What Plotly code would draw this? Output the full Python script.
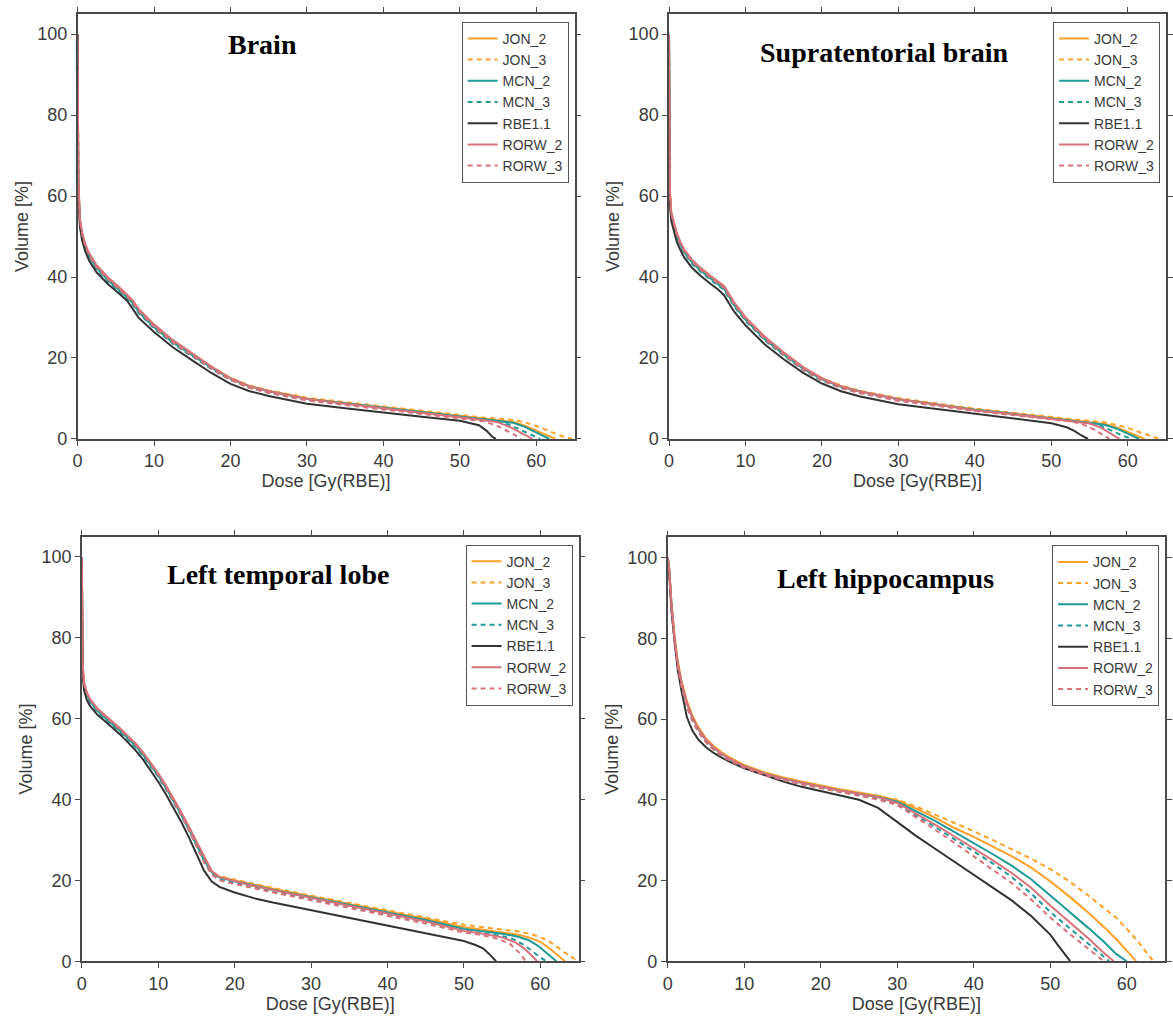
import plotly.graph_objects as go

# ---------------- data ----------------
SERIES = ["JON_2", "JON_3", "MCN_2", "MCN_3", "RBE", "RORW_2", "RORW_3"]
SERIES_NAMES = ["JON_2", "JON_3", "MCN_2", "MCN_3", "RBE1.1", "RORW_2", "RORW_3"]
PANELS = ["BR", "ST", "LT", "LH"]
PANEL_TITLES = ["Brain", "Supratentorial brain", "Left temporal lobe", "Left hippocampus"]
X_TICKS = [0, 10, 20, 30, 40, 50, 60]
Y_TICKS = [0, 20, 40, 60, 80, 100]

# ---- Brain ----
BR_D = [0, 0.1, 0.3, 0.6, 1, 1.5, 2.5, 4, 5.5, 6.5, 7.2, 8, 10, 12.5, 15, 17.5, 20, 22.5, 25, 30, 35, 40, 45, 50]
BR_JON_2_V = [100, 64, 54, 50.5, 47.8, 45.5, 42.5, 39.5, 37.0, 35.3, 33.9, 31.7, 27.9, 24.1, 20.9, 17.8, 15.0, 13.1, 11.9, 10.0, 8.9, 7.8, 6.8, 5.7]
BR_JON_3_V = [100, 64, 54, 50.5, 47.8, 45.5, 42.5, 39.5, 37.0, 35.3, 33.9, 31.7, 27.9, 24.1, 20.9, 17.9, 15.1, 13.2, 12.0, 10.2, 9.1, 8.0, 7.0, 5.9]
BR_MCN_2_V = [100, 63.5, 53.7, 50.2, 47.5, 45.2, 42.2, 39.2, 36.7, 35.0, 33.6, 31.4, 27.6, 23.8, 20.6, 17.6, 14.9, 13.0, 11.8, 9.9, 8.8, 7.7, 6.7, 5.6]
BR_MCN_3_V = [100, 63, 53.4, 50.0, 47.3, 45.0, 41.9, 38.9, 36.4, 34.7, 33.3, 31.1, 27.3, 23.5, 20.3, 17.3, 14.6, 12.7, 11.5, 9.7, 8.6, 7.5, 6.5, 5.4]
BR_RBE_V = [100, 61, 52.5, 49.0, 46.4, 44.1, 41.1, 38.2, 35.8, 34.1, 32.2, 29.9, 26.4, 22.6, 19.4, 16.3, 13.6, 11.8, 10.6, 8.7, 7.6, 6.5, 5.5, 4.5]
BR_RORW_2_V = [100, 65, 54.5, 51.0, 48.2, 45.9, 42.9, 39.9, 37.4, 35.7, 34.3, 32.1, 28.3, 24.4, 21.1, 17.9, 15.0, 13.0, 11.8, 9.9, 8.7, 7.6, 6.5, 5.4]
BR_RORW_3_V = [100, 64, 54, 50.5, 47.8, 45.4, 42.4, 39.4, 36.9, 35.2, 33.8, 31.6, 27.7, 23.8, 20.5, 17.4, 14.6, 12.6, 11.4, 9.5, 8.4, 7.3, 6.3, 5.2]
BR_JON_2_TD = [53, 55, 57, 58.5, 60, 61.5, 62.5]
BR_JON_2_TV = [5.0, 4.6, 4.2, 3.3, 2.0, 0.8, 0]
BR_JON_3_TD = [53, 55, 57, 58.5, 60, 62, 63.5, 64.7]
BR_JON_3_TV = [5.3, 5.0, 4.7, 4.1, 3.2, 1.7, 0.6, 0]
BR_MCN_2_TD = [53, 55, 57, 58.5, 60, 61, 61.7]
BR_MCN_2_TV = [4.9, 4.5, 4.0, 3.0, 1.6, 0.6, 0]
BR_MCN_3_TD = [53, 55, 56.5, 58, 59.5, 60.5]
BR_MCN_3_TV = [4.7, 4.2, 3.5, 2.2, 0.9, 0]
BR_RBE_TD = [51, 52.5, 53.5, 54.2, 54.7]
BR_RBE_TV = [4.1, 3.4, 2.0, 0.6, 0]
BR_RORW_2_TD = [53, 55, 56.6, 58, 59.5]
BR_RORW_2_TV = [4.7, 4.1, 2.9, 1.5, 0]
BR_RORW_3_TD = [53, 54.8, 56, 57.2, 58]
BR_RORW_3_TV = [4.4, 3.3, 2.2, 1.0, 0]

# ---- Supratentorial brain ----
ST_D = [0, 0.1, 0.3, 0.7, 1, 1.5, 2, 3, 4.2, 5.5, 6.5, 7.2, 7.8, 8.5, 10, 12.5, 15, 17.5, 20, 22.5, 25, 30, 35, 40, 45, 50]
ST_JON_2_V = [100, 61, 55.5, 52.5, 50.5, 48.2, 46.4, 43.9, 41.8, 39.8, 38.4, 37.4, 35.6, 33.4, 29.8, 25.0, 21.2, 17.6, 14.9, 13.0, 11.8, 9.9, 8.6, 7.3, 6.3, 5.2]
ST_JON_3_V = [100, 61, 55.5, 52.5, 50.5, 48.2, 46.4, 43.9, 41.8, 39.8, 38.4, 37.4, 35.6, 33.4, 29.8, 25.0, 21.2, 17.7, 15.0, 13.2, 11.9, 10.1, 8.8, 7.5, 6.5, 5.4]
ST_MCN_2_V = [100, 60.5, 55.2, 52.2, 50.2, 47.9, 46.1, 43.6, 41.5, 39.5, 38.1, 37.1, 35.3, 33.1, 29.5, 24.7, 20.9, 17.4, 14.7, 12.9, 11.7, 9.8, 8.5, 7.2, 6.2, 5.1]
ST_MCN_3_V = [100, 60, 54.9, 51.9, 49.9, 47.6, 45.8, 43.3, 41.2, 39.2, 37.8, 36.8, 35.0, 32.8, 29.2, 24.4, 20.6, 17.1, 14.4, 12.6, 11.4, 9.6, 8.3, 7.0, 6.0, 4.9]
ST_RBE_V = [100, 58.5, 53.8, 50.8, 48.8, 46.6, 44.8, 42.3, 40.2, 38.2, 36.8, 35.5, 33.6, 31.5, 28.1, 23.4, 19.7, 16.4, 13.7, 11.8, 10.5, 8.6, 7.4, 6.2, 5.1, 3.9]
ST_RORW_2_V = [100, 62, 56, 53.0, 51.0, 48.6, 46.8, 44.3, 42.2, 40.2, 38.8, 37.8, 36.0, 33.8, 30.1, 25.3, 21.4, 17.8, 15.0, 13.0, 11.7, 9.8, 8.5, 7.1, 6.1, 5.0]
ST_RORW_3_V = [100, 61, 55.5, 52.5, 50.5, 48.1, 46.3, 43.8, 41.7, 39.7, 38.3, 37.3, 35.5, 33.3, 29.6, 24.7, 20.8, 17.2, 14.5, 12.6, 11.3, 9.4, 8.2, 6.9, 5.9, 4.8]
ST_JON_2_TD = [53, 55, 57, 58.5, 60, 61.3, 62.2]
ST_JON_2_TV = [4.6, 4.2, 3.7, 2.9, 1.8, 0.7, 0]
ST_JON_3_TD = [53, 55, 57, 58.5, 60, 62, 63.2, 64.1]
ST_JON_3_TV = [4.8, 4.5, 4.1, 3.5, 2.7, 1.4, 0.5, 0]
ST_MCN_2_TD = [53, 55, 57, 58.5, 60, 61, 61.5]
ST_MCN_2_TV = [4.5, 4.1, 3.5, 2.6, 1.4, 0.4, 0]
ST_MCN_3_TD = [53, 55, 56.5, 58, 59.5, 60.5]
ST_MCN_3_TV = [4.4, 3.9, 3.2, 1.9, 0.7, 0]
ST_RBE_TD = [52, 53, 54, 54.8]
ST_RBE_TV = [2.9, 2.0, 0.8, 0]
ST_RORW_2_TD = [53, 55, 56.5, 57.8, 58.9]
ST_RORW_2_TV = [4.4, 3.8, 2.8, 1.4, 0]
ST_RORW_3_TD = [53, 54.5, 55.5, 56.7, 57.6]
ST_RORW_3_TV = [4.2, 3.3, 2.4, 1.1, 0]

# ---- Left temporal lobe ----
LT_D = [0, 0.1, 0.3, 0.6, 1, 1.5, 2, 3, 4, 5, 6, 7, 8, 9, 10, 11, 12, 13, 14, 15, 16, 17, 18, 20, 22.5, 25, 30, 35, 40, 45, 50]
LT_JON_2_V = [100, 73, 68.5, 66.5, 64.8, 63.4, 62.3, 60.6, 59.0, 57.3, 55.5, 53.6, 51.4, 48.9, 46.2, 43.2, 40.0, 36.6, 33.0, 29.3, 25.3, 22.2, 20.9, 20.0, 18.9, 17.9, 16.0, 14.1, 12.3, 10.5, 8.4]
LT_JON_3_V = [100, 73, 68.5, 66.5, 64.8, 63.4, 62.3, 60.6, 59.0, 57.3, 55.5, 53.6, 51.4, 48.9, 46.2, 43.2, 40.0, 36.6, 33.0, 29.3, 25.3, 22.2, 21.0, 20.2, 19.1, 18.1, 16.2, 14.4, 12.6, 10.9, 9.0]
LT_MCN_2_V = [100, 72.5, 68.2, 66.2, 64.5, 63.1, 62.0, 60.3, 58.7, 57.0, 55.2, 53.3, 51.1, 48.6, 45.9, 42.9, 39.7, 36.3, 32.7, 29.0, 25.0, 22.0, 20.7, 19.8, 18.7, 17.7, 15.8, 13.9, 12.1, 10.2, 8.0]
LT_MCN_3_V = [100, 72, 67.9, 65.9, 64.2, 62.8, 61.7, 60.0, 58.4, 56.7, 54.9, 53.0, 50.8, 48.3, 45.6, 42.6, 39.4, 36.0, 32.4, 28.6, 24.6, 21.6, 20.3, 19.4, 18.3, 17.3, 15.4, 13.5, 11.7, 9.8, 7.6]
LT_RBE_V = [100, 71, 67, 64.9, 63.3, 62.0, 61.0, 59.4, 57.8, 56.1, 54.2, 52.2, 49.9, 47.3, 44.4, 41.3, 38.0, 34.5, 30.7, 26.5, 22.4, 19.7, 18.4, 17.0, 15.6, 14.5, 12.6, 10.7, 8.9, 7.0, 5.0]
LT_RORW_2_V = [100, 73.5, 69, 66.8, 65.1, 63.7, 62.6, 60.9, 59.3, 57.6, 55.8, 53.9, 51.7, 49.2, 46.5, 43.5, 40.3, 36.9, 33.3, 29.6, 25.6, 22.3, 20.8, 19.8, 18.6, 17.6, 15.6, 13.7, 11.8, 9.8, 7.5]
LT_RORW_3_V = [100, 73, 68.5, 66.5, 64.8, 63.4, 62.3, 60.6, 59.0, 57.3, 55.5, 53.6, 51.4, 48.9, 46.1, 43.0, 39.7, 36.2, 32.5, 28.6, 24.5, 21.4, 20.0, 19.1, 18.0, 17.0, 15.1, 13.2, 11.3, 9.3, 7.1]
LT_JON_2_TD = [52.5, 55, 57, 58.5, 60, 61.3, 62.5, 63.2]
LT_JON_2_TV = [7.8, 7.2, 6.6, 5.9, 4.8, 3.0, 1.0, 0]
LT_JON_3_TD = [52.5, 55, 57, 59, 60.5, 61.5, 63.2, 64.3, 65]
LT_JON_3_TV = [8.4, 7.9, 7.4, 6.6, 5.5, 4.5, 2.1, 0.8, 0]
LT_MCN_2_TD = [52.5, 55, 57, 58.5, 59.7, 60.7, 61.5, 62.1]
LT_MCN_2_TV = [7.4, 6.8, 6.1, 5.2, 3.8, 2.2, 0.8, 0]
LT_MCN_3_TD = [52.5, 55, 56.5, 57.8, 59, 60, 60.8]
LT_MCN_3_TV = [6.9, 6.2, 5.4, 4.1, 2.4, 0.9, 0]
LT_RBE_TD = [51.5, 52.5, 53.3, 54.2]
LT_RBE_TV = [4.0, 3.2, 1.8, 0]
LT_RORW_2_TD = [52.5, 55, 56.8, 58, 58.8, 59.6]
LT_RORW_2_TV = [6.8, 5.9, 4.6, 3.0, 1.5, 0]
LT_RORW_3_TD = [52.5, 54.5, 56, 57.2, 58.1]
LT_RORW_3_TV = [6.4, 5.5, 4.3, 2.2, 0]

# ---- Left hippocampus ----
LH_D = [0, 0.2, 0.5, 0.9, 1.3, 1.8, 2.5, 3.2, 4, 5, 6, 7, 8, 10, 12.5, 15, 17.5, 20, 22.5, 25, 27.5, 30, 32.5, 35, 37.5, 40, 42.5, 45, 47.5, 50]
LH_JON_2_V = [100, 97, 88.5, 80.5, 74.5, 69.5, 64.5, 61.0, 58.0, 55.2, 53.3, 51.8, 50.6, 48.6, 46.9, 45.6, 44.5, 43.5, 42.6, 41.8, 41.0, 39.8, 37.8, 35.5, 33.0, 30.8, 28.4, 26.0, 23.2, 19.8]
LH_JON_3_V = [100, 97, 88.5, 80, 74.2, 69.2, 64.2, 60.8, 57.8, 55.0, 53.1, 51.6, 50.4, 48.4, 46.7, 45.4, 44.3, 43.3, 42.4, 41.6, 40.8, 40.0, 38.3, 36.3, 34.3, 32.2, 30.0, 27.8, 25.4, 22.8]
LH_MCN_2_V = [100, 97, 88, 79.5, 73.8, 68.8, 63.8, 60.4, 57.5, 54.8, 52.9, 51.4, 50.2, 48.3, 46.6, 45.3, 44.2, 43.2, 42.3, 41.5, 40.7, 39.5, 37.2, 34.7, 32.0, 29.3, 26.5, 23.6, 20.3, 16.3]
LH_MCN_3_V = [100, 96.5, 87.5, 79, 73.2, 68.2, 63.2, 59.9, 57.0, 54.4, 52.5, 51.0, 49.9, 48.0, 46.3, 45.0, 43.9, 42.9, 42.0, 41.2, 40.3, 39.0, 36.2, 33.2, 30.2, 27.2, 24.2, 20.8, 16.8, 12.2]
LH_RBE_V = [100, 96, 86.5, 78.5, 72.3, 67.0, 60.5, 57.2, 54.9, 53.0, 51.6, 50.5, 49.5, 47.8, 46.1, 44.6, 43.2, 42.1, 41.1, 40.0, 38.0, 34.5, 31.0, 27.8, 24.6, 21.6, 18.3, 15.0, 11.2, 6.6]
LH_RORW_2_V = [100, 97, 88.2, 79.8, 74.0, 69.0, 64.0, 60.6, 57.6, 54.9, 53.0, 51.5, 50.3, 48.3, 46.6, 45.3, 44.2, 43.2, 42.3, 41.5, 40.6, 39.2, 36.6, 33.8, 30.9, 28.0, 25.0, 21.8, 18.2, 13.8]
LH_RORW_3_V = [100, 96.5, 87.2, 78.8, 73.0, 68.0, 63.0, 59.6, 56.8, 54.2, 52.3, 50.9, 49.8, 47.9, 46.2, 44.9, 43.8, 42.8, 41.9, 41.0, 40.0, 38.7, 35.7, 32.5, 29.3, 26.0, 22.8, 19.3, 15.3, 10.8]
LH_JON_2_TD = [52.5, 55, 57, 58.6, 60, 61.2]
LH_JON_2_TV = [16.0, 12.0, 8.5, 5.5, 2.6, 0]
LH_JON_3_TD = [52.5, 55, 57, 58.6, 60, 61.5, 62.7, 63.5]
LH_JON_3_TV = [19.8, 16.2, 13.2, 10.8, 8.0, 4.8, 1.8, 0]
LH_MCN_2_TD = [52.5, 55, 57, 58.6, 60]
LH_MCN_2_TV = [12.3, 8.2, 4.8, 1.8, 0]
LH_MCN_3_TD = [52.5, 55, 56.5, 57.7]
LH_MCN_3_TV = [8.2, 4.2, 1.8, 0]
LH_RBE_TD = [51, 52, 52.6]
LH_RBE_TV = [4.0, 1.3, 0]
LH_RORW_2_TD = [52.5, 55, 56.8, 58.3]
LH_RORW_2_TV = [9.8, 5.6, 2.4, 0]
LH_RORW_3_TD = [52.5, 55, 56, 57]
LH_RORW_3_TV = [6.8, 3.0, 1.4, 0]

# ---------------- styling ----------------
ORANGE = "#FFA028"
TEAL = "#1F9A96"
DARK = "#333333"
PINK = "#D9737B"
DASH = "5px,4px"
STYLE = {
    "JON_2": (ORANGE, "solid"), "JON_3": (ORANGE, DASH),
    "MCN_2": (TEAL, "solid"), "MCN_3": (TEAL, DASH),
    "RBE": (DARK, "solid"),
    "RORW_2": (PINK, "solid"), "RORW_3": (PINK, DASH),
}

W, H = 1173, 1023
# plot-area pixel boxes: left, right, top, bottom
BOXES = [(73, 573, 14, 443.3), (668, 1168, 14, 443.3), (77.3, 577, 542, 970.7), (666.7, 1167, 542.7, 970.7)]
TITLE_POS = [(259, 45), (885, 53), (275, 580), (886, 584)]
LEGEND_NAMES = ["legend", "legend2", "legend3", "legend4"]

G = globals()
fig = go.Figure()
for pi, p in enumerate(PANELS):
    body_d = G[p + "_D"]
    suffix = "" if pi == 0 else str(pi + 1)
    for s, sname in zip(SERIES, SERIES_NAMES):
        xs = list(body_d) + G[f"{p}_{s}_TD"]
        ys = list(G[f"{p}_{s}_V"]) + G[f"{p}_{s}_TV"]
        col, dash = STYLE[s]
        fig.add_trace(go.Scatter(
            x=xs, y=ys, mode="lines", name=sname,
            line=dict(color=col, width=2, dash=dash),
            xaxis="x" + suffix, yaxis="y" + suffix,
            legend=LEGEND_NAMES[pi], showlegend=True,
        ))

TICKFONT = dict(family="Liberation Sans, Arial, sans-serif", size=18, color="#3a3a3a")
AXCOL = "#4a4a4a"
layout = dict(
    width=W, height=H, margin=dict(l=0, r=0, t=0, b=0, pad=0),
    paper_bgcolor="white", plot_bgcolor="white", showlegend=True,
)
annotations = []
for pi, (l, r, t, b) in enumerate(BOXES):
    suffix = "" if pi == 0 else str(pi + 1)
    common = dict(showline=True, linecolor=AXCOL, linewidth=1.5, mirror="ticks",
                  ticks="outside", ticklen=5, tickwidth=1.3, tickcolor=AXCOL,
                  showgrid=False, zeroline=False, tickfont=TICKFONT)
    layout["xaxis" + suffix] = dict(
        domain=[l / W, r / W], range=[0, 65], anchor="y" + suffix,
        tickvals=X_TICKS, title=dict(text="Dose [Gy(RBE)]", font=TICKFONT, standoff=4),
        **common)
    layout["yaxis" + suffix] = dict(
        domain=[1 - b / H, 1 - t / H], range=[0, 105], anchor="x" + suffix,
        tickvals=Y_TICKS, title=dict(text="Volume [%]", font=TICKFONT, standoff=4),
        **common)
    layout[LEGEND_NAMES[pi]] = dict(
        x=(r - 6) / W, y=1 - (t + 8) / H, xanchor="right", yanchor="top",
        bordercolor="#555555", borderwidth=1, bgcolor="white",
        font=dict(family="Liberation Sans, Arial, sans-serif", size=14, color="#3a3a3a"),
        itemwidth=30, tracegroupgap=0,
    )
    tx, ty = TITLE_POS[pi]
    annotations.append(dict(
        text="<b>" + PANEL_TITLES[pi] + "</b>", x=tx / W, y=1 - ty / H,
        xref="paper", yref="paper", xanchor="center", yanchor="middle", showarrow=False,
        font=dict(family="Liberation Serif, Times New Roman, serif", size=28, color="black"),
    ))
layout["annotations"] = annotations
fig.update_layout(**layout)

fig.write_html("out.html", config={"displayModeBar": False},
               post_script="document.body.style.margin='0';")
